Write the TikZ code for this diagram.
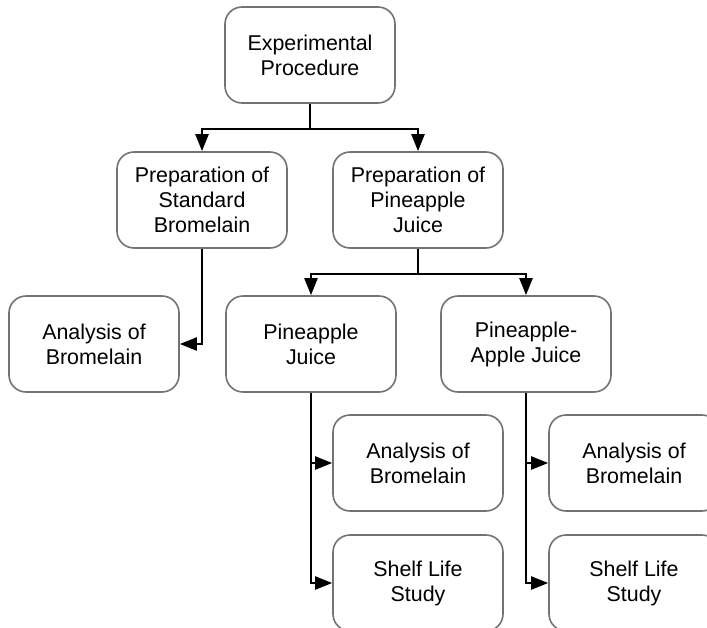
\documentclass[tikz,border=0pt]{standalone}
\usepackage{fontspec}
\setmainfont{Liberation Sans}
\usetikzlibrary{arrows.meta}
\begin{document}
\begin{tikzpicture}[x=1pt,y=-1pt,
  box/.style={draw=black!55, line width=1.6pt, rounded corners=17pt, fill=white,
    minimum width=170pt, minimum height=96pt, align=center, inner sep=0pt,
    font=\fontsize{21.4}{25}\selectfont},
  conn/.style={draw=black, line width=2pt, -{Triangle[length=17pt,width=13pt]}}]
\useasboundingbox (0,0) rectangle (707,627);
\clip (0,0) rectangle (707,627);
\node[box] (ep) at (310,55) {Experimental\\Procedure};
\node[box] (psb) at (202,200) {Preparation of\\Standard\\Bromelain};
\node[box] (ppj) at (418,200) {Preparation of\\Pineapple\\Juice};
\node[box] (abl) at (94,344) {Analysis of\\Bromelain};
\node[box] (pj) at (311,344) {Pineapple\\Juice};
\node[box] (paj) at (526,344) {Pineapple-\\Apple Juice};
\node[box] (abm) at (418,463) {Analysis of\\Bromelain};
\node[box] (slm) at (418,583) {Shelf Life\\Study};
\node[box] (abr) at (634,463) {Analysis of\\Bromelain};
\node[box] (slr) at (634,583) {Shelf Life\\Study};
\draw[conn] (ep.south) -- ++(0,25) -| (psb.north);
\draw[conn] (ep.south) -- ++(0,25) -| (ppj.north);
\draw[conn] (psb.south) |- (abl.east);
\draw[conn] (ppj.south) -- ++(0,25) -| (pj.north);
\draw[conn] (ppj.south) -- ++(0,25) -| (paj.north);
\draw[conn] (pj.south) |- (abm.west);
\draw[conn] (pj.south) |- (slm.west);
\draw[conn] (paj.south) |- (abr.west);
\draw[conn] (paj.south) |- (slr.west);
\end{tikzpicture}
\end{document}
